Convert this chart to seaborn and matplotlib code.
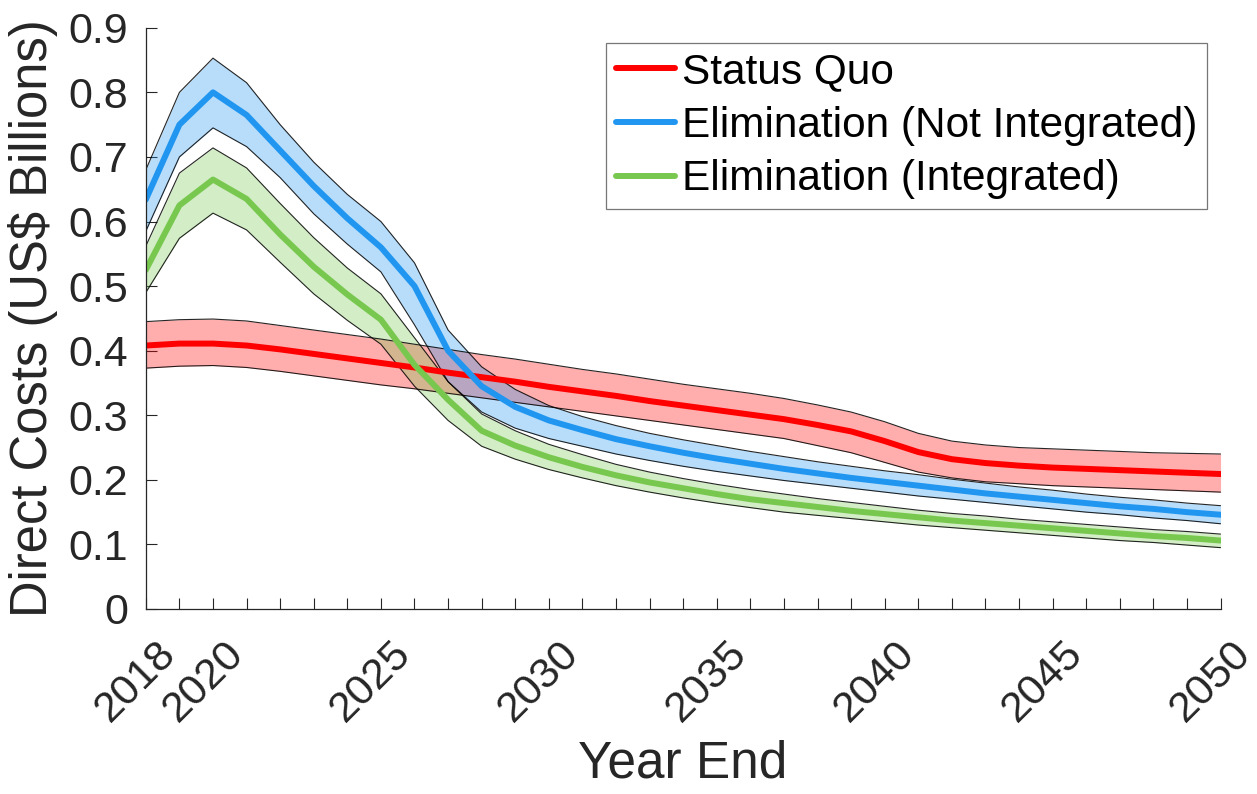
import numpy as np
import pandas as pd
import seaborn as sns
import matplotlib
matplotlib.use("Agg")
import matplotlib.pyplot as plt
import matplotlib.transforms as mtransforms

years = list(range(2018, 2051))

# Status Quo
sq_mean = [0.408, 0.411, 0.411, 0.408, 0.402, 0.395, 0.388, 0.381, 0.374, 0.366,
           0.359, 0.352, 0.344, 0.337, 0.330, 0.322, 0.315, 0.308, 0.301, 0.294,
           0.285, 0.275, 0.260, 0.243, 0.232, 0.226, 0.222, 0.219, 0.217, 0.215,
           0.213, 0.211, 0.209]
sq_low = [0.373, 0.376, 0.377, 0.374, 0.368, 0.361, 0.354, 0.347, 0.341, 0.334,
          0.327, 0.320, 0.313, 0.306, 0.299, 0.292, 0.285, 0.278, 0.271, 0.264,
          0.253, 0.242, 0.227, 0.212, 0.203, 0.197, 0.194, 0.191, 0.189, 0.187,
          0.185, 0.183, 0.181]
sq_high = [0.445, 0.448, 0.449, 0.446, 0.439, 0.432, 0.425, 0.418, 0.410, 0.402,
           0.394, 0.387, 0.379, 0.371, 0.364, 0.356, 0.348, 0.341, 0.334, 0.326,
           0.316, 0.305, 0.290, 0.272, 0.260, 0.254, 0.250, 0.248, 0.246, 0.244,
           0.242, 0.241, 0.240]

# Elimination (Not Integrated)
ni_mean = [0.634, 0.750, 0.800, 0.765, 0.710, 0.655, 0.605, 0.560, 0.500, 0.400,
           0.345, 0.313, 0.292, 0.277, 0.263, 0.252, 0.242, 0.233, 0.225, 0.217,
           0.210, 0.203, 0.197, 0.191, 0.185, 0.179, 0.174, 0.169, 0.164, 0.159,
           0.155, 0.150, 0.146]
ni_low = [0.585, 0.700, 0.745, 0.716, 0.668, 0.612, 0.565, 0.522, 0.440, 0.352,
          0.305, 0.280, 0.264, 0.252, 0.240, 0.230, 0.221, 0.213, 0.206, 0.199,
          0.193, 0.187, 0.181, 0.175, 0.170, 0.165, 0.160, 0.155, 0.150, 0.146,
          0.141, 0.137, 0.132]
ni_high = [0.680, 0.800, 0.853, 0.815, 0.750, 0.692, 0.642, 0.600, 0.536, 0.432,
           0.375, 0.340, 0.315, 0.298, 0.284, 0.272, 0.262, 0.253, 0.244, 0.236,
           0.228, 0.221, 0.214, 0.208, 0.201, 0.195, 0.189, 0.184, 0.178, 0.173,
           0.169, 0.164, 0.160]

# Elimination (Integrated)
in_mean = [0.525, 0.625, 0.665, 0.635, 0.580, 0.530, 0.487, 0.448, 0.378, 0.324,
           0.276, 0.253, 0.235, 0.220, 0.207, 0.196, 0.187, 0.178, 0.170, 0.164,
           0.158, 0.152, 0.147, 0.142, 0.137, 0.133, 0.129, 0.125, 0.121, 0.117,
           0.113, 0.110, 0.106]
in_low = [0.490, 0.574, 0.613, 0.587, 0.537, 0.488, 0.447, 0.410, 0.345, 0.292,
          0.252, 0.232, 0.216, 0.203, 0.191, 0.181, 0.172, 0.164, 0.157, 0.150,
          0.145, 0.140, 0.135, 0.130, 0.126, 0.122, 0.118, 0.114, 0.110, 0.106,
          0.103, 0.099, 0.095]
in_high = [0.562, 0.675, 0.714, 0.683, 0.628, 0.575, 0.528, 0.488, 0.420, 0.352,
           0.302, 0.276, 0.255, 0.239, 0.224, 0.212, 0.202, 0.193, 0.185, 0.178,
           0.171, 0.165, 0.159, 0.153, 0.148, 0.144, 0.139, 0.135, 0.131, 0.127,
           0.123, 0.120, 0.116]

series_names = ["Status Quo", "Elimination (Not Integrated)", "Elimination (Integrated)"]
series_colors = ["#ff0000", "#2196f0", "#78c850"]
tick_years = [2018, 2020, 2025, 2030, 2035, 2040, 2045, 2050]
y_ticks = [0, 0.1, 0.2, 0.3, 0.4, 0.5, 0.6, 0.7, 0.8, 0.9]
y_tick_labels = ["0", "0.1", "0.2", "0.3", "0.4", "0.5", "0.6", "0.7", "0.8", "0.9"]

means = [sq_mean, ni_mean, in_mean]
lows = [sq_low, ni_low, in_low]
highs = [sq_high, ni_high, in_high]

df = pd.concat(
    [pd.DataFrame({"Year": years, "Cost": m, "Scenario": n}) for m, n in zip(means, series_names)],
    ignore_index=True,
)

sns.set_style("ticks")
plt.rcParams["font.family"] = ["Liberation Sans", "DejaVu Sans"]
text_color = "#262626"

fig = plt.figure(figsize=(12.57, 7.94), dpi=100)
ax = fig.add_axes([0.116, 0.233, 0.855, 0.732])

# uncertainty bands with thin black outlines
for lo, hi, c in zip(lows, highs, series_colors):
    ax.fill_between(years, lo, hi, color=c, alpha=0.32, linewidth=0)
    ax.plot(years, lo, color="black", linewidth=0.8, alpha=0.85)
    ax.plot(years, hi, color="black", linewidth=0.8, alpha=0.85)

sns.lineplot(data=df, x="Year", y="Cost", hue="Scenario", hue_order=series_names,
             palette=series_colors, linewidth=4.3, ax=ax, legend=True)

ax.set_xlim(2018, 2050)
ax.set_ylim(0, 0.9)
ax.set_xticks(years)
ax.set_xticklabels([str(y) if y in tick_years else "" for y in years],
                   rotation=45, ha="right", va="baseline", rotation_mode="anchor",
                   fontsize=31, color=text_color)
ax.set_yticks(y_ticks)
ax.set_yticklabels(y_tick_labels, fontsize=31, color=text_color)
ax.tick_params(axis="both", direction="in", length=8, width=0.8, colors=text_color,
               labelcolor=text_color)
ax.tick_params(axis="y", pad=13)
ax.tick_params(axis="x", pad=0)
for s in ["top", "right"]:
    ax.spines[s].set_visible(False)
for s in ["left", "bottom"]:
    ax.spines[s].set_color(text_color)
    ax.spines[s].set_linewidth(0.9)

# rotated year labels sit below and slightly right of their ticks
shift = mtransforms.ScaledTranslation(32 / 100, -46 / 100, fig.dpi_scale_trans)
for lbl in ax.get_xticklabels():
    lbl.set_transform(lbl.get_transform() + shift)

ax.set_xlabel("Year End", fontsize=37, color=text_color)
ax.xaxis.set_label_coords(0.5, -0.225)
ax.set_ylabel("Direct Costs (US$ Billions)", fontsize=36.5, color=text_color)
ax.yaxis.set_label_coords(-0.082, 0.5)

handles, labels = ax.get_legend_handles_labels()
leg = ax.legend(handles, labels, loc="upper right", bbox_to_anchor=(1207 / 1257, 1 - 43 / 794),
                bbox_transform=fig.transFigure, fontsize=30.5, frameon=True,
                fancybox=False, handlelength=1.4, handletextpad=0.17,
                labelspacing=0.32, borderpad=0.22, borderaxespad=0)
leg.get_frame().set_edgecolor("#555555")
leg.get_frame().set_linewidth(0.9)
for t in leg.get_texts():
    t.set_color("black")
for l in leg.get_lines():
    l.set_linewidth(4.3)

fig.savefig("out.png", dpi=100)
